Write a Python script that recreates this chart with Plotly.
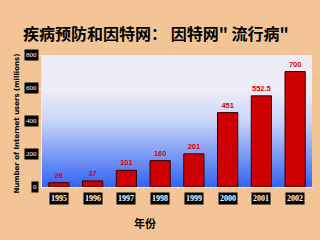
import plotly.graph_objects as go

years = ["1995", "1996", "1997", "1998", "1999", "2000", "2001", "2002"]
users = [26, 37, 101, 160, 201, 451, 552.5, 700]
value_labels = ["26", "37", "101", "160", "201", "451", "552.5", "700"]
y_ticks = [0, 200, 400, 600, 800]

title_text = "疾病预防和因特网： 因特网\" 流行病\""
y_title = "Number of Internet users (millions)"
x_title = "年份"

fig = go.Figure()
fig.add_trace(go.Bar(
    x=years, y=users,
    marker=dict(color="#CC0000", line=dict(color="#3a0000", width=1)),
    width=0.6,
    text=value_labels, textposition="outside",
    textfont=dict(color="#E00000", size=7.5, family="Liberation Sans", weight="bold"),
    cliponaxis=False,
))

def lerp(c1, c2, t):
    return tuple(int(round(a + (b - a) * t)) for a, b in zip(c1, c2))

top = (236, 236, 246)
mid = (200, 212, 248)
bot = (50, 100, 242)
shapes = []
n = 40
for i in range(n):
    y0 = i / n
    y1 = (i + 1) / n
    yc = (y0 + y1) / 2
    if yc > 0.72:
        c = top
    elif yc > 0.5:
        c = lerp(mid, top, (yc - 0.5) / 0.22)
    else:
        c = lerp(bot, mid, yc / 0.5)
    col = "rgb(%d,%d,%d)" % c
    shapes.append(dict(type="rect", xref="paper", yref="paper", x0=0, x1=1, y0=y0,
                       y1=min(1, y1 + 0.01),
                       fillcolor=col, line=dict(width=0), layer="below"))

annotations = []
for i, yr in enumerate(years):
    annotations.append(dict(x=i, y=0, xref="x", yref="paper", yanchor="top", yshift=-5,
                            text="<b>%s</b>" % yr, showarrow=False, bgcolor="black",
                            font=dict(color="white", size=8, family="Liberation Serif"),
                            borderpad=1))
for t in y_ticks:
    annotations.append(dict(x=0, y=t, xref="paper", yref="y", xanchor="right", xshift=-3,
                            text="%d" % t, showarrow=False, bgcolor="black",
                            font=dict(color="white", size=7, family="Liberation Serif"),
                            borderpad=1))
annotations.append(dict(x=-0.115, y=0.48, xref="paper", yref="paper", textangle=-90,
                        text="<b>%s</b>" % y_title, showarrow=False,
                        font=dict(color="black", size=7, family="DejaVu Sans")))
annotations.append(dict(x=0.38, y=-0.27, xref="paper", yref="paper", yanchor="middle",
                        text="<b>%s</b>" % x_title, showarrow=False,
                        font=dict(color="black", size=11, family="Noto Sans CJK SC")))
annotations.append(dict(x=0.5, y=1.17, xref="paper", yref="paper", yanchor="middle",
                        text="<b>%s</b>" % title_text, showarrow=False,
                        font=dict(color="black", size=16, family="Noto Sans CJK SC"),
                        xshift=-21))

fig.update_layout(
    width=320, height=240,
    margin=dict(l=42, r=8, t=55, b=53),
    paper_bgcolor="#F3C495",
    plot_bgcolor="rgba(0,0,0,0)",
    showlegend=False,
    shapes=shapes,
    annotations=annotations,
    xaxis=dict(type="category", range=[-0.5, len(years) - 0.5], showticklabels=False,
               showgrid=False, showline=True,
               linecolor="#F8E8D8", ticks="outside", ticklen=2, tickcolor="#F8E8D8",
               tickson="boundaries"),
    yaxis=dict(range=[0, 800], tickvals=y_ticks, showticklabels=False, showgrid=False,
               showline=True, linecolor="#F8E8D8", zeroline=False,
               ticks="outside", ticklen=2, tickcolor="#F8E8D8"),
)

fig.write_html("out.html")
